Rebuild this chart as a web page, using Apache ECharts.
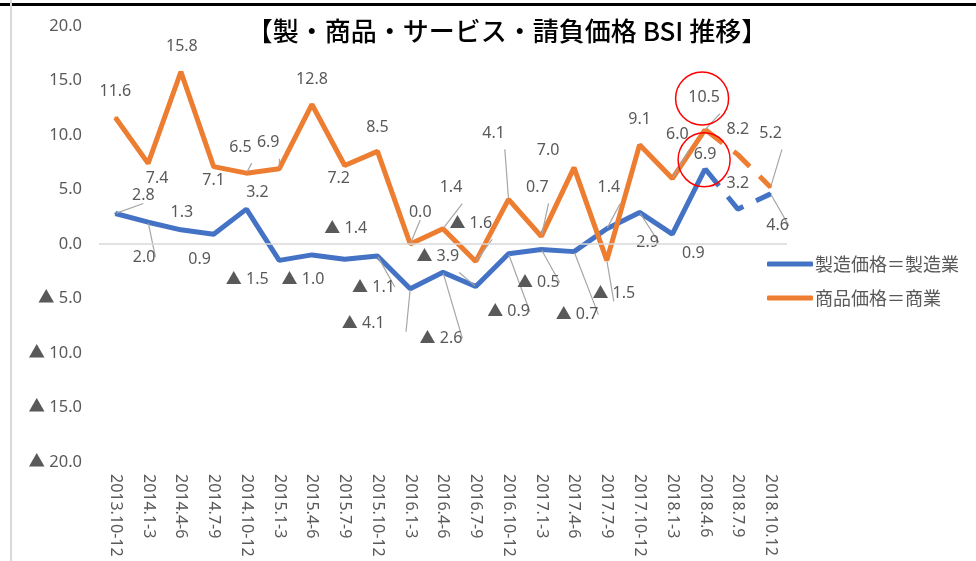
<!DOCTYPE html>
<html>
<head>
    <meta charset="utf-8">
    <title>製・商品・サービス・請負価格 BSI 推移</title>
    <style>
        body{
            margin: 0;
            padding: 0;
        }
        #container{
            width: 976px;
            height: 561px;
        }
    </style>
</head>
<body>
    <div id="container"></div>

    <script src="https://cdn.jsdelivr.net/npm/echarts@6/dist/echarts.min.js"></script>

    <script type="text/javascript">
    // 四半期
    var quarters = ['2013.10-12', '2014.1-3', '2014.4-6', '2014.7-9', '2014.10-12', '2015.1-3', '2015.4-6',
        '2015.7-9', '2015.10-12', '2016.1-3', '2016.4-6', '2016.7-9', '2016.10-12', '2017.1-3',
        '2017.4-6', '2017.7-9', '2017.10-12', '2018.1-3', '2018.4.6', '2018.7.9', '2018.10.12'];

    // 製造価格＝製造業
    var seizou = [2.8, 2.0, 1.3, 0.9, 3.2, -1.5, -1.0, -1.4, -1.1, -4.1, -2.6, -3.9, -0.9, -0.5, -0.7,
        1.4, 2.9, 0.9, 6.9, 3.2, 4.6];

    // 商品価格＝商業
    var shouhin = [11.6, 7.4, 15.8, 7.1, 6.5, 6.9, 12.8, 7.2, 8.5, 0.0, 1.4, -1.6, 4.1, 0.7, 7.0,
        -1.5, 9.1, 6.0, 10.5, 8.2, 5.2];

    var seriesNames = ['製造価格＝製造業', '商品価格＝商業'];

    // 見通し(破線)はこの位置から
    var forecastFrom = 18;

    // ラベルのずらし量 [dx, dy] と引き出し線
    var seizouOffset = [[28,-18],[-4,35],[1,-17],[-14,25],[11,-17],[-32,19],[-9,25],[1,-31],[-4,31],[-47,35],
        [-2,66],[-38,-30],[0,58],[-3,33],[3,63],[2,-41],[8,30],[21,19],[0,-14],[0,-26],[7,32]];
    var seizouLeader = [1,1,0,0,0,0,0,0,1,1,1,1,1,1,1,1,1,0,0,0,1];
    var shouhinOffset = [[0,-26],[9,15],[1,-25],[0,14],[-6,-26],[-11,-26],[0,-25],[-6,13],[0,-24],[10,-32],
        [8,-41],[-5,-38],[-15,-66],[-4,-49],[-26,-17],[7,33],[0,-25],[5,-44],[-1,-32],[0,-25],[0,-54]];
    var shouhinLeader = [0,0,0,0,1,1,0,0,0,1,1,1,1,1,0,1,0,1,1,0,1];

    var BLUE = '#4472C4', ORANGE = '#ED7D31', GREY = '#595959';
    var FONT = '"Noto Sans", "Noto Sans CJK JP", sans-serif';

    function fmt(v) {
        return v < 0 ? '▲ ' + (-v).toFixed(1) : v.toFixed(1);
    }

    // 実線部分と破線部分のデータを作る
    function buildItems(values, offsets, leaders, dashed) {
        return values.map(function (v, i) {
            if (!dashed && i > forecastFrom) return null;
            if (dashed && i < forecastFrom) return null;
            var item = {
                value: v,
                label: { offset: offsets[i] },
                labelLine: { show: leaders[i] === 1 }
            };
            if (dashed && i === forecastFrom) {
                item.label = { show: false };
                item.labelLine = { show: false };
            }
            return item;
        });
    }

    function makeSeries(name, values, offsets, leaders, color, dashed, extra) {
        var s = {
            name: name,
            type: 'line',
            data: buildItems(values, offsets, leaders, dashed),
            symbol: 'circle',
            symbolSize: 2,
            showSymbol: true,
            itemStyle: { color: color },
            lineStyle: { color: color, width: 5, type: dashed ? [22, 14] : 'solid', cap: 'butt' },
            label: {
                show: true,
                position: 'inside',
                color: GREY,
                fontSize: 16,
                fontFamily: FONT,
                formatter: function (p) { return fmt(p.value); }
            },
            labelLine: {
                lineStyle: { color: '#a6a6a6', width: 1.2 },
                length2: 0
            },
            emphasis: { disabled: true },
            silent: true
        };
        for (var k in extra) s[k] = extra[k];
        return s;
    }

    var circleStyle = { color: 'rgba(0,0,0,0)', borderColor: '#ff0000', borderWidth: 1.5 };

    var option = {
        animation: false,
        title: {
            text: '【製・商品・サービス・請負価格 BSI 推移】',
            left: 502,
            top: 13,
            textAlign: 'center',
            textStyle: { fontSize: 26, fontWeight: 500, color: '#000', fontFamily: '"Noto Sans CJK JP", sans-serif' }
        },
        legend: {
            data: seriesNames,
            orient: 'vertical',
            left: 762,
            top: 250,
            icon: 'roundRect',
            itemWidth: 46,
            itemHeight: 5,
            itemGap: 16,
            textStyle: { color: GREY, fontSize: 18, fontFamily: '"Noto Sans CJK JP", sans-serif', padding: [0, 0, 0, -3] }
        },
        grid: { left: 99, right: 189, top: 26, bottom: 99, containLabel: false },
        xAxis: {
            type: 'category',
            data: quarters,
            boundaryGap: true,
            axisLine: { show: false, onZero: false },
            axisTick: { show: false },
            axisLabel: { rotate: -90, color: GREY, fontSize: 16, fontFamily: FONT, margin: 12, interval: 0 }
        },
        yAxis: {
            type: 'value',
            min: -20,
            max: 20,
            interval: 5,
            axisLine: { show: false },
            axisTick: { show: false },
            splitLine: { show: false },
            axisLabel: { color: GREY, fontSize: 16.5, fontFamily: FONT, margin: 17, formatter: fmt }
        },
        graphic: [
            { type: 'line', shape: { x1: 0, y1: 4.5, x2: 976, y2: 4.5 }, style: { stroke: '#000', lineWidth: 3 } },
            { type: 'line', shape: { x1: 11, y1: 0, x2: 11, y2: 561 }, style: { stroke: '#d9d9d9', lineWidth: 2 } }
        ],
        series: [
            makeSeries(seriesNames[0], seizou, seizouOffset, seizouLeader, BLUE, false, {
                markLine: {
                    silent: true,
                    symbol: 'none',
                    label: { show: false },
                    lineStyle: { color: '#d9d9d9', width: 1.5, type: 'solid' },
                    data: [{ yAxis: 0 }]
                },
                markPoint: {
                    silent: true,
                    symbol: 'circle',
                    symbolSize: [52, 54],
                    itemStyle: circleStyle,
                    label: { show: false },
                    data: [{ coord: [forecastFrom, seizou[forecastFrom]], symbolOffset: [-1, -9] }]
                }
            }),
            makeSeries(seriesNames[1], shouhin, shouhinOffset, shouhinLeader, ORANGE, false, {
                markPoint: {
                    silent: true,
                    symbol: 'circle',
                    symbolSize: [53, 53],
                    itemStyle: circleStyle,
                    label: { show: false },
                    data: [{ coord: [forecastFrom, shouhin[forecastFrom]], symbolOffset: [-3, -31] }]
                }
            }),
            makeSeries(seriesNames[0], seizou, seizouOffset, seizouLeader, BLUE, true, {}),
            makeSeries(seriesNames[1], shouhin, shouhinOffset, shouhinLeader, ORANGE, true, {})
        ]
    };

    var myChart = echarts.init(document.getElementById('container'));
    myChart.setOption(option, true);
    </script>
</body>
</html>
